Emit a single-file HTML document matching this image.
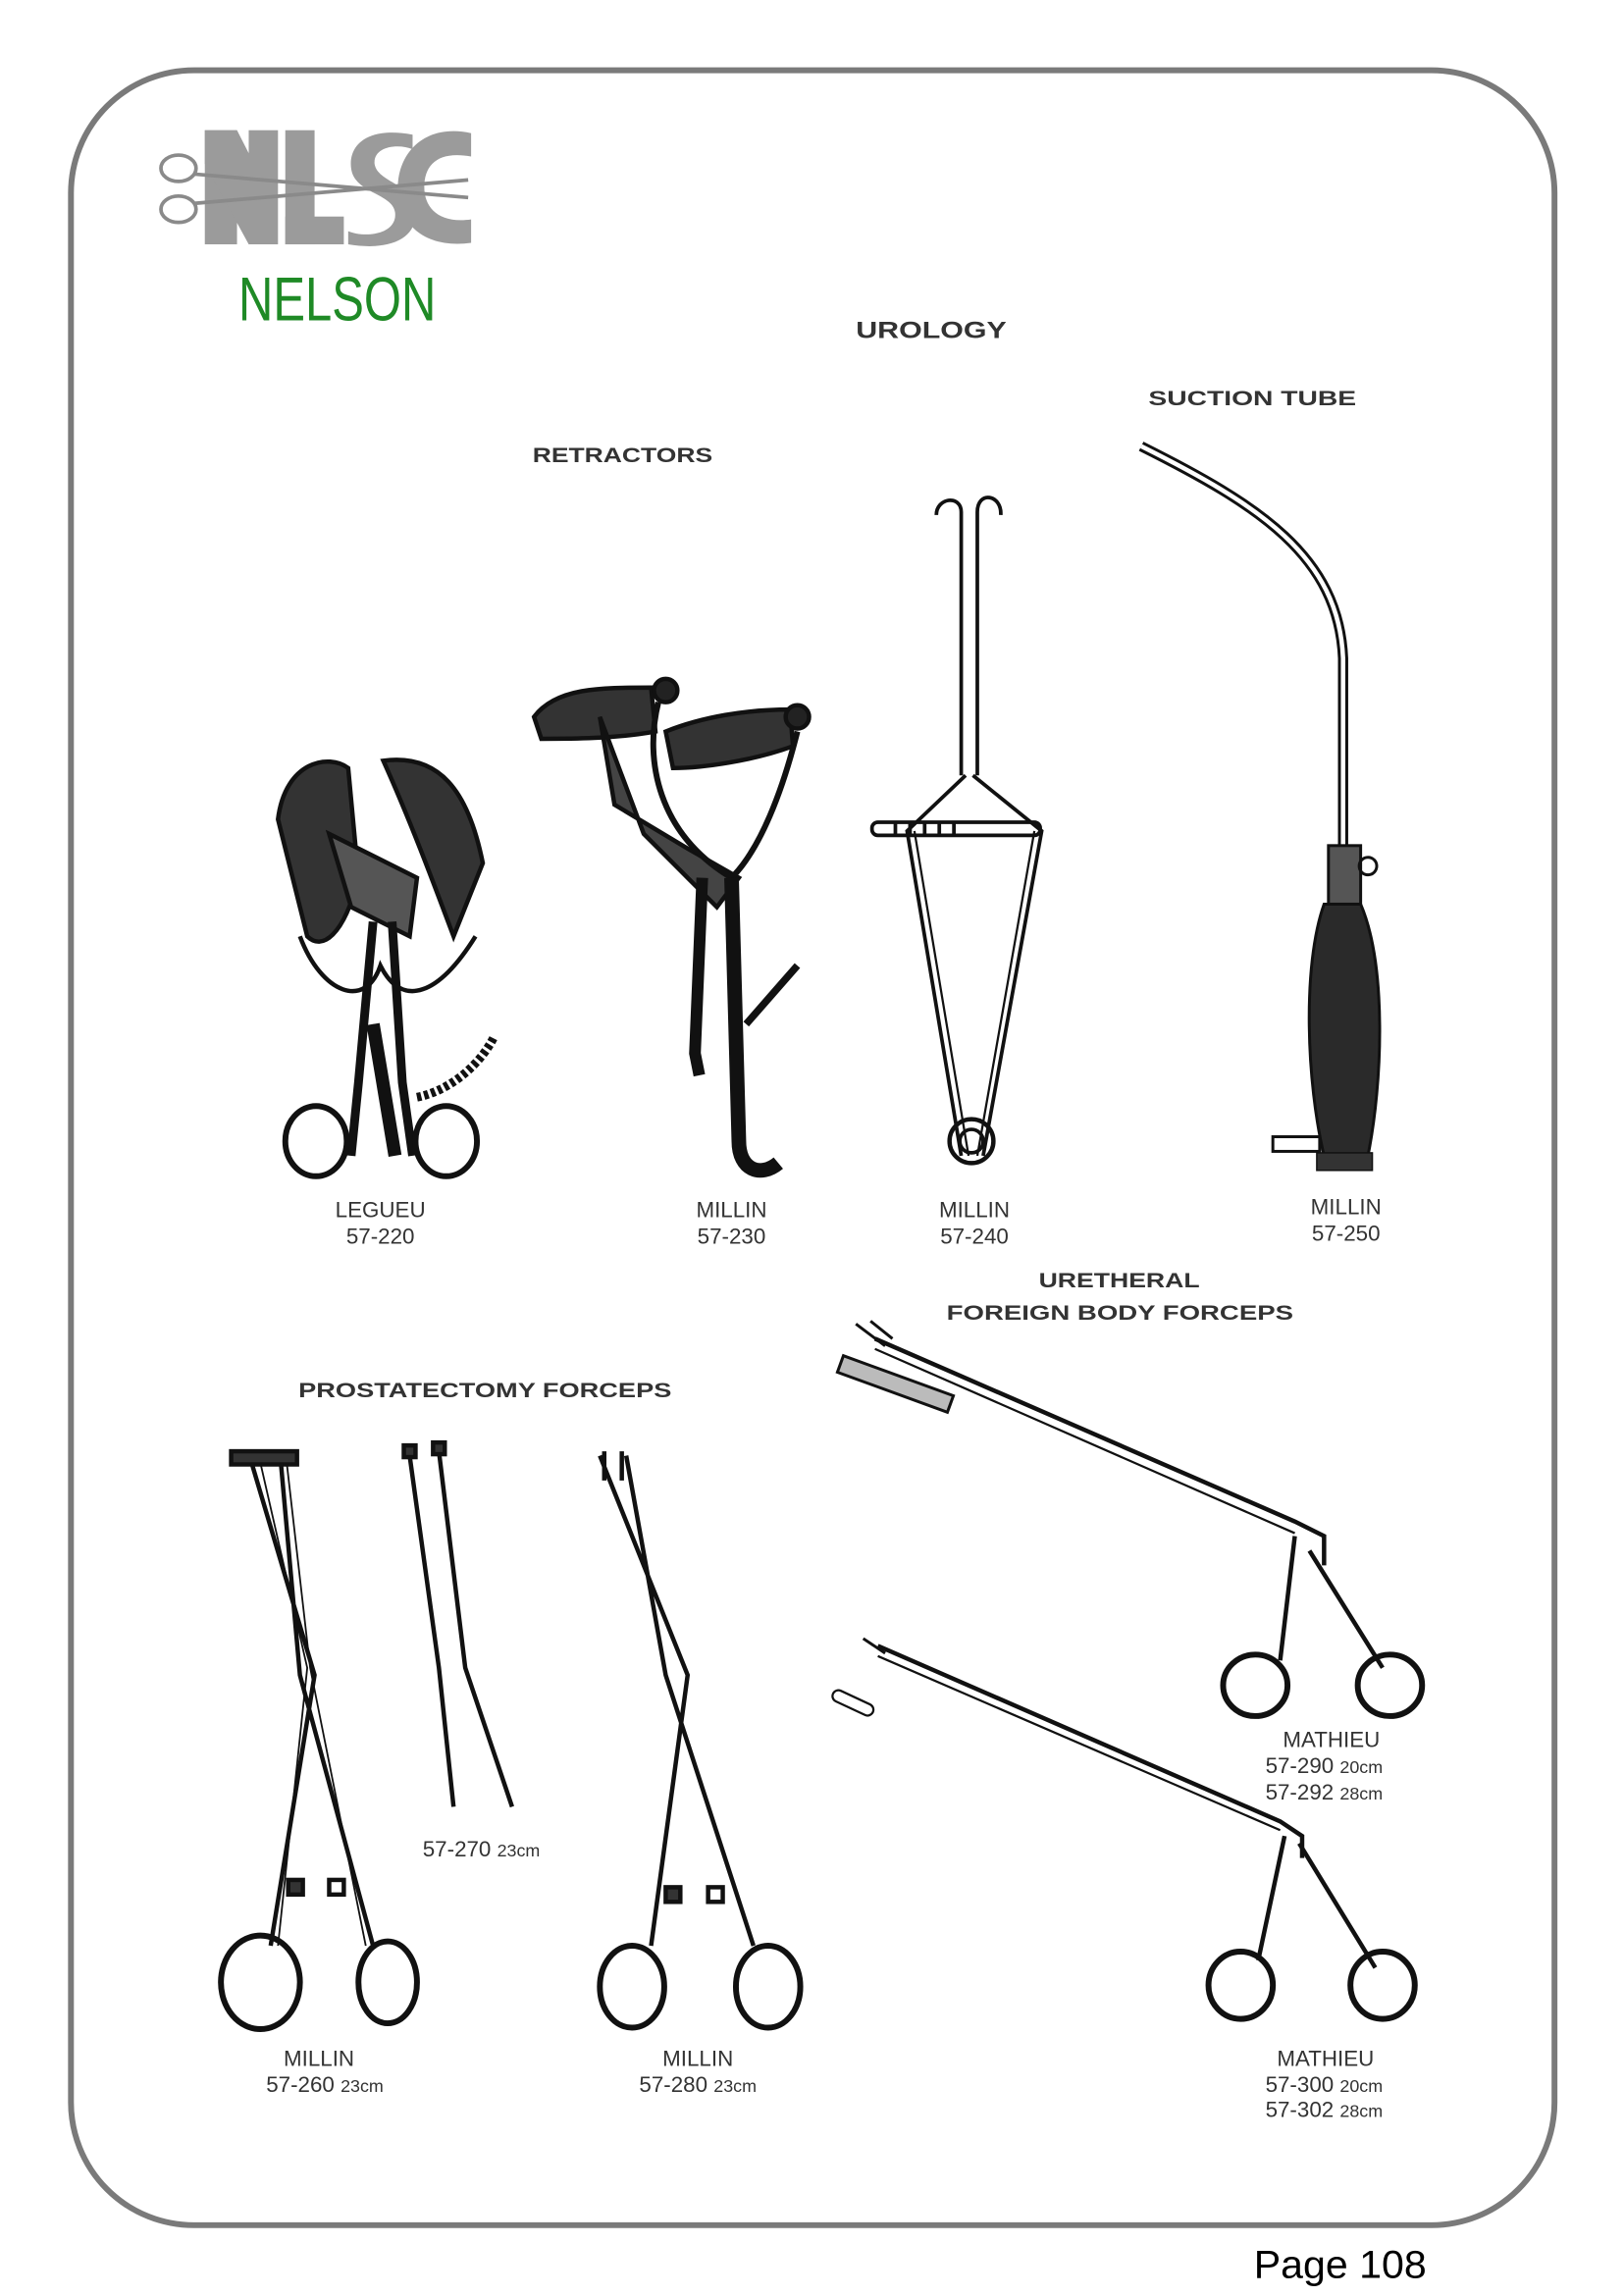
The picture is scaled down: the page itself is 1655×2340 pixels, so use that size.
<!DOCTYPE html>
<html><head><meta charset="utf-8">
<style>
html,body{margin:0;padding:0;background:#fff;}
svg{display:block;}
text{font-family:"Liberation Sans",sans-serif;}
</style></head>
<body>
<svg width="1655" height="2340" viewBox="0 0 1110 1569.4" xmlns="http://www.w3.org/2000/svg">
<rect x="0" y="0" width="1110" height="1570" fill="#fff"/>
<!-- border -->
<rect x="48.5" y="48" width="1014" height="1473" rx="84" ry="84" fill="none" stroke="#7a7a7a" stroke-width="4"/>

<!-- logo -->
<g fill="#9b9b9b">
  <rect x="140" y="89" width="22" height="78"/>
  <polygon points="140,89 162,89 188,140 188,167 170,167 140,112"/>
  <rect x="170" y="89" width="20" height="78"/>
  <rect x="195" y="89" width="20" height="78"/>
  <rect x="195" y="148" width="40" height="19"/>
  <path d="M282,92 C250,86 238,100 240,115 C242,132 268,132 270,145 C272,160 250,163 238,158 L238,167 C268,172 285,162 284,145 C283,125 258,125 256,112 C255,100 272,98 282,102 Z"/>
  <path d="M322,91 C290,84 272,105 272,128 C272,155 292,170 322,166 L322,150 C300,153 290,142 290,128 C290,112 300,103 322,107 Z"/>
</g>
<g fill="none" stroke="#8a8a8a" stroke-width="2.5">
  <ellipse cx="122" cy="115" rx="12" ry="9"/>
  <ellipse cx="122" cy="143" rx="12" ry="9"/>
  <path d="M133,119 L320,135 M133,139 L320,123"/>
</g>
<text x="163" y="219" font-size="42" fill="#1f8a26" textLength="135" lengthAdjust="spacingAndGlyphs" style="font-family:'Liberation Sans Narrow','Liberation Sans',sans-serif">NELSON</text>

<!-- headings -->
<g font-weight="bold" fill="#333" font-size="14">
<text x="585" y="231" textLength="103" lengthAdjust="spacingAndGlyphs" font-size="16">UROLOGY</text>
<text x="785" y="277" textLength="142" lengthAdjust="spacingAndGlyphs">SUCTION TUBE</text>
<text x="364" y="316" textLength="123" lengthAdjust="spacingAndGlyphs">RETRACTORS</text>
<text x="710" y="880" textLength="110" lengthAdjust="spacingAndGlyphs">URETHERAL</text>
<text x="647" y="902" textLength="237" lengthAdjust="spacingAndGlyphs">FOREIGN BODY FORCEPS</text>
<text x="204" y="955" textLength="255" lengthAdjust="spacingAndGlyphs">PROSTATECTOMY FORCEPS</text>
</g>

<!-- labels -->
<g fill="#333" font-size="15" text-anchor="middle">
<text x="260" y="832">LEGUEU</text><text x="260" y="850">57-220</text>
<text x="500" y="832">MILLIN</text><text x="500" y="850">57-230</text>
<text x="666" y="832">MILLIN</text><text x="666" y="850">57-240</text>
<text x="920" y="830">MILLIN</text><text x="920" y="848">57-250</text>
<text x="910" y="1194">MATHIEU</text>
<text x="905" y="1194" dy="18">57-290 <tspan font-size="12">20cm</tspan></text>
<text x="905" y="1230">57-292 <tspan font-size="12">28cm</tspan></text>
<text x="329" y="1269">57-270 <tspan font-size="12">23cm</tspan></text>
<text x="218" y="1412">MILLIN</text>
<text x="222" y="1430">57-260 <tspan font-size="12">23cm</tspan></text>
<text x="477" y="1412">MILLIN</text>
<text x="477" y="1430">57-280 <tspan font-size="12">23cm</tspan></text>
<text x="906" y="1412">MATHIEU</text>
<text x="905" y="1430">57-300 <tspan font-size="12">20cm</tspan></text>
<text x="905" y="1447">57-302 <tspan font-size="12">28cm</tspan></text>
</g>
<text x="857" y="1557" font-size="27" fill="#000" textLength="118" lengthAdjust="spacingAndGlyphs">Page 108</text>

<!-- LEGUEU -->
<g stroke="#111" stroke-width="3" fill="none">
  <path d="M190,560 C195,520 225,515 238,525 L245,600 C235,640 220,650 210,640 Z" fill="#333"/>
  <path d="M262,520 C300,515 320,540 330,590 L310,640 C295,600 280,560 262,520 Z" fill="#333"/>
  <path d="M225,570 L285,600 L280,640 L240,620 Z" fill="#555"/>
  <path d="M205,640 C220,680 250,690 260,660 C275,690 300,680 325,640"/>
  <path d="M255,630 L245,740 L240,790 M268,630 L275,740 L282,790" stroke-width="6"/>
  <path d="M255,700 L270,790" stroke-width="9"/>
  <ellipse cx="216" cy="780" rx="21" ry="24" stroke-width="4"/>
  <ellipse cx="305" cy="780" rx="21" ry="24" stroke-width="4"/>
  <path d="M285,750 C310,745 330,725 338,708" stroke-width="6" stroke-dasharray="3,2"/>
</g>
<!-- MILLIN 230 -->
<g stroke="#111" stroke-width="3" fill="none">
  <path d="M365,490 C380,470 410,470 445,470 L448,500 C420,505 390,505 370,505 Z" fill="#333"/>
  <path d="M455,500 C480,490 510,485 540,485 L542,510 C515,520 480,525 460,525 Z" fill="#333"/>
  <path d="M410,490 L420,550 L470,580 L505,600 L490,620 L470,600 L440,570 Z" fill="#444"/>
  <path d="M450,480 C440,520 450,570 500,600 C520,580 535,540 545,500" stroke-width="4"/>
  <circle cx="455" cy="472" r="8" fill="#222"/><circle cx="545" cy="490" r="8" fill="#222"/>
  <path d="M480,600 L475,720 L478,735" stroke-width="8"/>
  <path d="M500,600 L505,780 C505,800 520,805 532,795" stroke-width="10"/>
  <path d="M510,700 L545,660" stroke-width="5"/>
</g>
<!-- MILLIN 240 -->
<g stroke="#111" stroke-width="2.5" fill="none">
  <path d="M657,530 L657,350 C657,338 640,340 640,352 M668,530 L668,350 C668,335 685,338 684,352"/>
  <path d="M660,530 L620,568 L657,790 M665,530 L712,568 L672,790"/>
  <path d="M625,568 L662,790 M707,568 L668,790" stroke-width="1.5"/>
  <circle cx="664" cy="780" r="15" stroke-width="3"/>
  <circle cx="664" cy="780" r="8"/>
  <rect x="596" y="562" width="115" height="9" rx="4"/>
  <path d="M612,563 v8 M622,563 v8 M632,563 v8 M642,563 v8 M652,563 v8"/>
</g>
<!-- SUCTION TUBE -->
<g stroke="#111" fill="none">
  <path d="M780,305 C860,345 915,380 918,450 L918,580" stroke-width="7"/>
  <path d="M780,305 C860,345 915,380 918,450 L918,580" stroke="#fff" stroke-width="3"/>
  <rect x="908" y="578" width="22" height="40" fill="#555" stroke-width="2"/>
  <circle cx="935" cy="592" r="6" stroke-width="2"/>
  <path d="M905,618 C890,660 893,740 905,790 L935,790 C945,740 948,660 930,618 Z" fill="#2a2a2a" stroke-width="2"/>
  <rect x="900" y="788" width="38" height="12" fill="#333"/>
  <rect x="870" y="777" width="32" height="10" fill="#fff" stroke-width="2"/>
</g>
<!-- URETHERAL forceps 1 -->
<g stroke="#111" fill="none" stroke-width="3">
  <path d="M598,915 L885,1040 L905,1050 L905,1070"/>
  <path d="M598,922 L885,1048" stroke-width="1.5"/>
  <path d="M585,905 L605,920 M595,903 L610,915" stroke-width="2"/>
  <rect x="572" y="940" width="80" height="12" transform="rotate(20 612 946)" fill="#bbb" stroke-width="2"/>
  <path d="M885,1050 L875,1135 M895,1060 L945,1140" stroke-width="3"/>
  <ellipse cx="858" cy="1152" rx="22" ry="21" stroke-width="4"/>
  <ellipse cx="950" cy="1152" rx="22" ry="21" stroke-width="4"/>
</g>
<!-- URETHERAL forceps 2 -->
<g stroke="#111" fill="none" stroke-width="3">
  <path d="M600,1125 L875,1245 L890,1255 L890,1270"/>
  <path d="M600,1132 L875,1251" stroke-width="1.5"/>
  <path d="M590,1120 L605,1130" stroke-width="2"/>
  <rect x="568" y="1160" width="30" height="8" rx="4" transform="rotate(25 583 1164)" stroke-width="1.5"/>
  <path d="M878,1255 L860,1340 M888,1260 L940,1345"/>
  <ellipse cx="848" cy="1357" rx="22" ry="23" stroke-width="4"/>
  <ellipse cx="945" cy="1357" rx="22" ry="23" stroke-width="4"/>
</g>
<!-- MILLIN 260 -->
<g stroke="#111" fill="none" stroke-width="3">
  <rect x="158" y="992" width="45" height="9" fill="#333"/>
  <path d="M172,1000 L215,1145 L185,1330 M192,1000 L205,1145 L255,1330"/>
  <path d="M178,1000 L210,1140 L190,1330 M196,1000 L212,1140 L250,1330" stroke-width="1.2"/>
  <ellipse cx="178" cy="1355" rx="27" ry="32" stroke-width="4"/>
  <ellipse cx="265" cy="1355" rx="20" ry="28" stroke-width="4"/>
  <rect x="197" y="1285" width="10" height="10" fill="#333"/><rect x="225" y="1285" width="10" height="10"/>
</g>
<!-- 57-270 -->
<g stroke="#111" fill="none" stroke-width="3">
  <path d="M280,995 L300,1140 L310,1235 M300,992 L318,1140 L350,1235"/>
  <rect x="276" y="988" width="8" height="8" fill="#333"/><rect x="296" y="986" width="8" height="8" fill="#333"/>
</g>
<!-- MILLIN 280 -->
<g stroke="#111" fill="none" stroke-width="3">
  <path d="M410,995 L470,1145 L445,1330 M428,995 L455,1145 L515,1330"/>
  <path d="M413,992 L413,1012 M425,992 L425,1012" stroke-width="3"/>
  <ellipse cx="432" cy="1358" rx="22" ry="28" stroke-width="4"/>
  <ellipse cx="525" cy="1358" rx="22" ry="28" stroke-width="4"/>
  <rect x="455" y="1290" width="10" height="10" fill="#333"/><rect x="484" y="1290" width="10" height="10"/>
</g>
</svg>
</body></html>
